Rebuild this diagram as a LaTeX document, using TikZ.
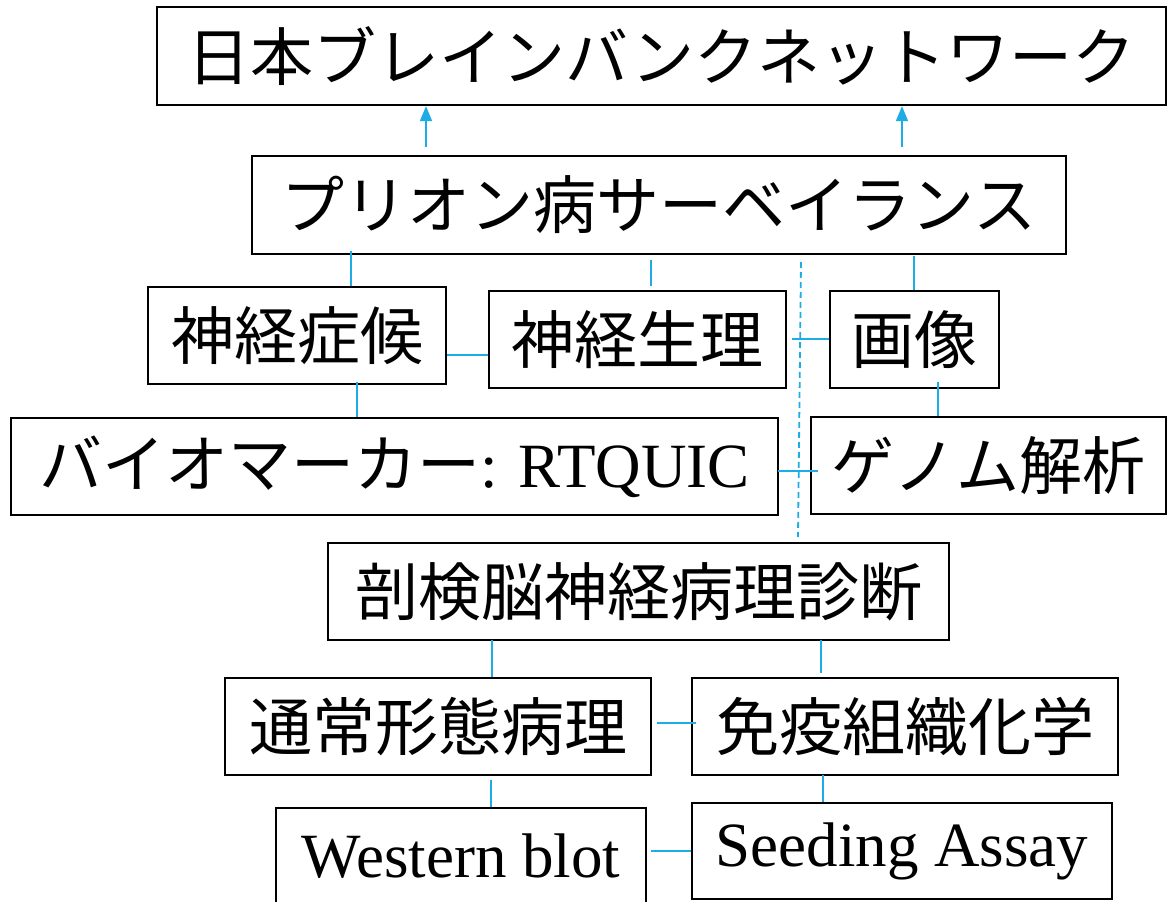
\documentclass[tikz,border=0pt]{standalone}
\usepackage{fontspec}
\setmainfont{Liberation Serif}
\newfontfamily\jp{Noto Sans CJK JP}
\usetikzlibrary{arrows.meta}
\definecolor{link}{RGB}{30,172,228}
\tikzset{
  box/.style={draw=black, line width=2.3pt, inner sep=0pt, align=center,
    font=\fontsize{63}{70}\selectfont},
  conn/.style={draw=link, line width=1.8pt},
  upar/.style={conn, -{Triangle[length=15pt,width=12pt]}},
  dconn/.style={conn, dash pattern=on 6pt off 4pt}
}
\begin{document}
\begin{tikzpicture}[x=1pt,y=-1pt]
\useasboundingbox (0,0) rectangle (1168,902);
% boxes
\node[box, minimum width=1009pt, minimum height=98pt] (nbb) at (661.5,56) {\jp 日本ブレインバンクネットワーク};
\node[box, minimum width=814pt, minimum height=98pt] (surv) at (659,205) {\jp プリオン病サーベイランス};
\node[box, minimum width=298pt, minimum height=97pt] (sympt) at (297,335.5) {\jp 神経症候};
\node[box, minimum width=297pt, minimum height=97pt] (physio) at (637.5,339.5) {\jp 神経生理};
\node[box, minimum width=169pt, minimum height=97pt] (image) at (914.5,339.5) {\jp 画像};
\node[box, minimum width=767pt, minimum height=97pt] (bio) at (394.5,466.5) {{\jp バイオマーカー}: RTQUIC};
\node[box, minimum width=355pt, minimum height=97pt] (genome) at (988.5,465.5) {\jp ゲノム解析};
\node[box, minimum width=621pt, minimum height=97pt] (autopsy) at (638.5,591.5) {\jp 剖検脳神経病理診断};
\node[box, minimum width=426pt, minimum height=97pt] (routine) at (438,726.5) {\jp 通常形態病理};
\node[box, minimum width=426pt, minimum height=97pt] (ihc) at (905,726.5) {\jp 免疫組織化学};
\node[box, minimum width=370pt, minimum height=97pt] (wb) at (461,856.5) {Western blot};
\node[box, minimum width=420pt, minimum height=96pt] (seed) at (902,851) {Seeding Assay};
% connector anchors
\coordinate (a1) at (426,147);
\coordinate (a2) at (902,147);
\coordinate (s1) at (351,251);
\coordinate (s2) at (651,260);
\coordinate (s3) at (914,256);
\coordinate (h1) at (792,339);
\coordinate (v1) at (357,382);
\coordinate (v2) at (938,382);
\coordinate (h2) at (778,471);
\coordinate (h2e) at (818,471);
\coordinate (d1) at (801,262);
\coordinate (d2) at (798,537);
\coordinate (t1) at (492,640);
\coordinate (t2) at (821,640);
\coordinate (t2e) at (821,673);
\coordinate (h3) at (657,723);
\coordinate (h3e) at (696,723);
\coordinate (b1) at (491,780);
\coordinate (b2) at (823,775);
\coordinate (h4) at (651,851);
% connectors
\draw[upar] (a1) -- (a1 |- nbb.south);
\draw[upar] (a2) -- (a2 |- nbb.south);
\draw[conn] (s1) -- (s1 |- sympt.north);
\draw[conn] (s2) -- ([yshift=4pt]s2 |- physio.north);
\draw[conn] (s3) -- (s3 |- image.north);
\draw[conn] (sympt.east |- 0,355) -- (physio.west |- 0,355);
\draw[conn] (h1) -- (h1 -| image.west);
\draw[conn] (v1) -- (v1 |- bio.north);
\draw[conn] (v2) -- (v2 |- genome.north);
\draw[conn] (h2) -- (h2e);
\draw[dconn] (d1) -- (d2);
\draw[conn] (t1) -- (t1 |- routine.north);
\draw[conn] (t2) -- (t2e);
\draw[conn] (h3) -- (h3e);
\draw[conn] (b1) -- (b1 |- wb.north);
\draw[conn] (b2) -- (b2 |- seed.north);
\draw[conn] (h4) -- (h4 -| seed.west);
\end{tikzpicture}
\end{document}
